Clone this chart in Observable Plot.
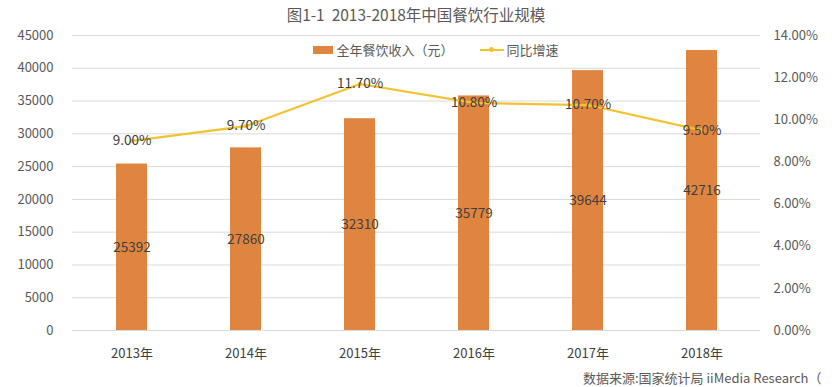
<!DOCTYPE html>
<html><head><meta charset="utf-8">
<script src="https://cdn.jsdelivr.net/npm/d3@7"></script>
<script src="https://cdn.jsdelivr.net/npm/@observablehq/plot@0.6"></script>
<style>
body{margin:0;background:#fff;font-family:"Noto Sans CJK SC","Noto Sans",sans-serif;}
#wrap{position:relative;width:832px;height:387px;overflow:hidden;}
#title{position:absolute;left:0;width:832px;top:3px;text-align:center;font-size:15.5px;color:#595959;}
#legend{position:absolute;top:40px;left:20px;width:832px;display:flex;justify-content:center;font-size:13px;color:#595959;align-items:center;}
#source{position:absolute;left:583px;top:368px;font-size:13px;color:#595959;white-space:nowrap;}
svg{position:absolute;left:0;top:0;}
</style></head>
<body><div id="wrap">
<div id="title">图1-1&nbsp;&nbsp;2013-2018年中国餐饮行业规模</div>
<div id="legend">
<span style="display:inline-block;width:20px;height:8px;background:#E0853F;margin-right:3px"></span><span>全年餐饮收入（元）</span>
<span style="display:inline-flex;align-items:center;width:24px;margin-left:26px;margin-right:3px;position:relative;height:10px"><span style="position:absolute;left:0;right:0;top:4px;height:2px;background:#F2C230"></span><span style="position:absolute;left:9px;top:2px;width:5px;height:5px;border-radius:50%;background:#F2C230"></span></span><span>同比增速</span>
</div>
<div id="source">数据来源:国家统计局 iiMedia Research（</div>
</div>
<script>
const years = ["2013年","2014年","2015年","2016年","2017年","2018年"];
const revenue = [25392,27860,32310,35779,39644,42716];
const growth = [9.00,9.70,11.70,10.80,10.70,9.50];
const leftTicks = [0,5000,10000,15000,20000,25000,30000,35000,40000,45000];
const rightTicks = [0,2,4,6,8,10,12,14];

const YMAX = 45000, PMAX = 14;
const k = YMAX / PMAX;
const bars = years.map((y,i)=>({year:y, v:revenue[i]}));
const line = years.map((y,i)=>({year:y, p:growth[i], v:growth[i]*k}));

const chart = Plot.plot({
  width: 832, height: 387,
  marginTop: 35, marginBottom: 57, marginLeft: 72, marginRight: 72,
  style: {fontFamily: '"Noto Sans CJK SC","Noto Sans",sans-serif', fontSize: "13px", color: "#595959", background: "transparent"},
  x: {domain: years, paddingInner: 0.73, paddingOuter: 0.365, label: null},
  y: {domain: [0, YMAX], label: null},
  marks: [
    Plot.ruleY(leftTicks, {stroke: "#D9D9D9", strokeWidth: 1}),
    Plot.axisY({ticks: leftTicks, tickSize: 0, tickPadding: 19, fontSize: 13, label: null, fill: "#595959", tickFormat: d => String(d)}),
    Plot.axisY(rightTicks.map(t=>t*k), {anchor: "right", tickSize: 0, tickPadding: 13, fontSize: 13, label: null, fill: "#595959", tickFormat: d => (d/k).toFixed(2) + "%"}),
    Plot.axisX({tickSize: 0, tickPadding: 18, fontSize: 13, label: null, fill: "#404040"}),
    Plot.barY(bars, {x: "year", y: "v", fill: "#E0853F"}),
    Plot.text(bars, {x: "year", y: d => d.v/2, text: d => String(d.v), fontSize: 13.5, fill: "#404040"}),
    Plot.line(line, {x: "year", y: "v", stroke: "#F2C230", strokeWidth: 2.2}),
    Plot.dot(line, {x: "year", y: "v", fill: "#F2C230", r: 2.2}),
    Plot.text(line, {x: "year", y: "v", text: d => d.p.toFixed(2) + "%", fontSize: 13.5, fill: "#404040"})
  ]
});
document.getElementById("wrap").prepend(chart);
</script>
</body></html>
